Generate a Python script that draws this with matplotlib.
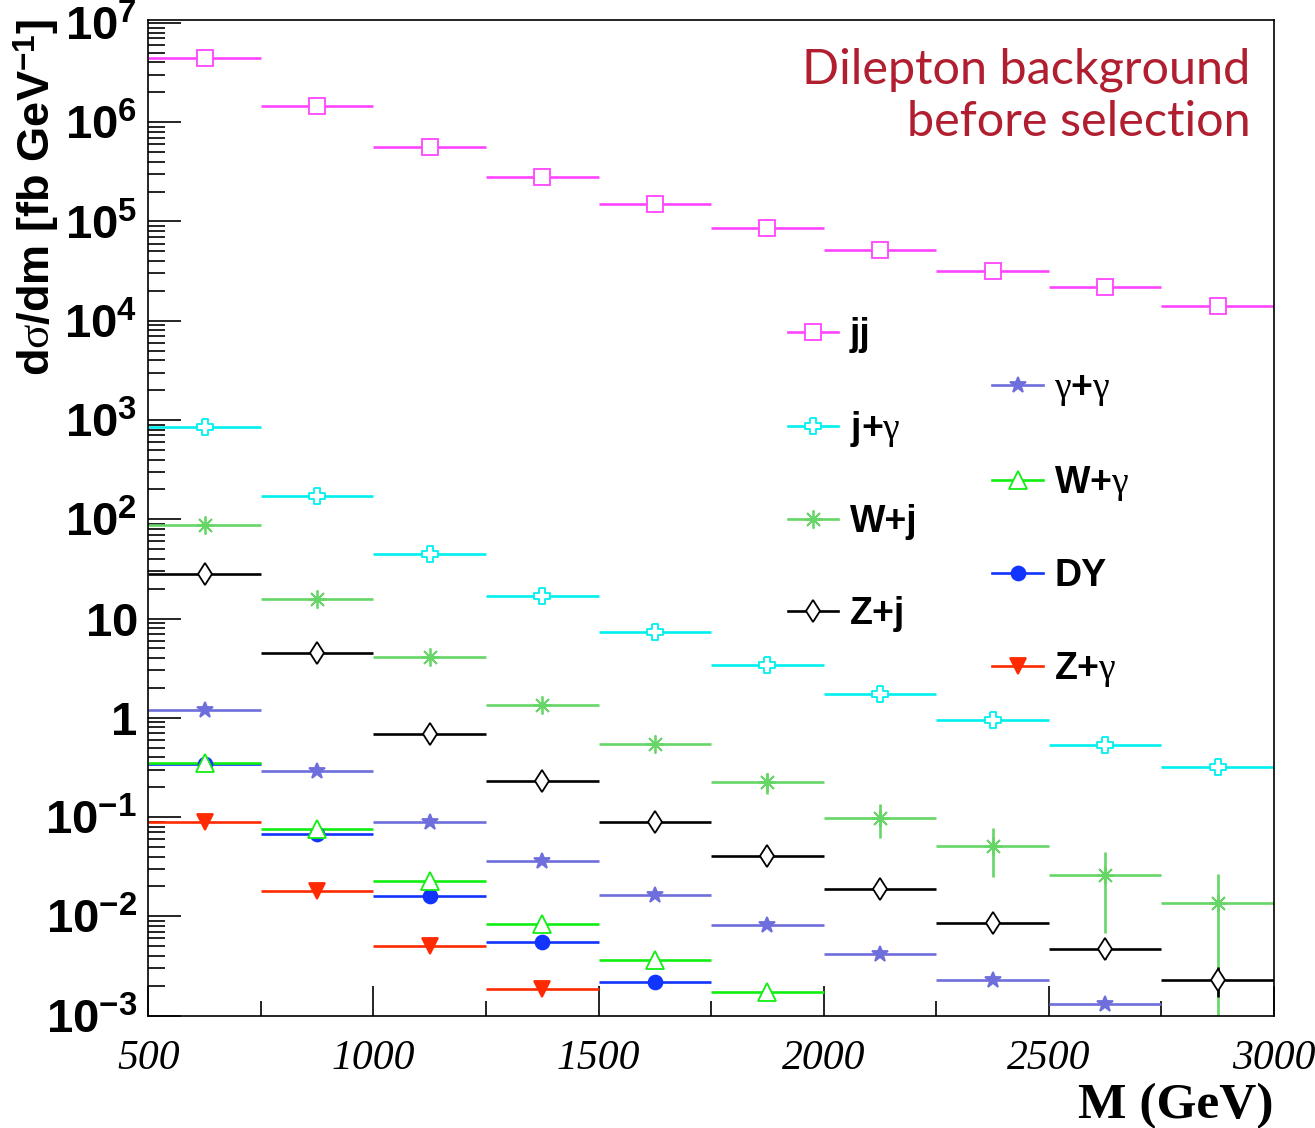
#!/usr/bin/env python3
# dilepton background cross sections vs mass, ROOT-like style

import numpy as np
import matplotlib
matplotlib.use('Agg')
import matplotlib.pyplot as plt
from matplotlib.path import Path
from matplotlib.lines import Line2D
from matplotlib.ticker import (FixedLocator, NullFormatter, FuncFormatter,
                               MultipleLocator)

plt.rcParams['mathtext.fontset'] = 'custom'
plt.rcParams['mathtext.rm'] = 'Liberation Serif'
plt.rcParams['mathtext.it'] = 'Liberation Serif:italic'
plt.rcParams['mathtext.bf'] = 'Liberation Sans:bold'

#---------------- data ----------------
mass_lo  = [500, 750, 1000, 1250, 1500, 1750, 2000, 2250, 2500, 2750]
bin_half = 125.
nan = np.nan

jj     = [4.4e6, 1.47e6, 5.6e5, 2.8e5, 1.49e5, 8.7e4, 5.2e4, 3.2e4, 2.2e4, 1.4e4]
jgam   = [850, 172, 45, 16.8, 7.3, 3.37, 1.74, 0.95, 0.53, 0.318]
wj     = [87.7, 15.8, 4.07, 1.35, 0.54, 0.223, 0.098, 0.051, 0.0258, 0.0137]
wj_err = [0, 0, 0, 0, 0, 0.053, 0.036, 0.026, 0.019, 0.013]
zj     = [27.9, 4.5, 0.684, 0.233, 0.089, 0.0404, 0.0188, 0.00855, 0.00471, 0.00229]
zj_err = [0, 0, 0, 0, 0, 0, 0, 0, 0.001, 0.00076]
gamgam = [1.2, 0.288, 0.0896, 0.0362, 0.0163, 0.0081, 0.0042, 0.00229, 0.00131, nan]
wgam   = [0.352, 0.0755, 0.0228, 0.0084, 0.0036, 0.00171, nan, nan, nan, nan]
dy     = [0.345, 0.0668, 0.016, 0.0055, 0.00216, nan, nan, nan, nan, nan]
zgam   = [0.0883, 0.018, 0.00505, 0.00185, nan, nan, nan, nan, nan, nan]

labels_left  = ['jj', r'j+$\mathrm{\gamma}$', 'W+j', 'Z+j']
labels_right = [r'$\mathrm{\gamma}$+$\mathrm{\gamma}$', r'W+$\mathrm{\gamma}$', 'DY',
                r'Z+$\mathrm{\gamma}$']

# open cross marker (ROOT style 28)
a = 0.32
cross_path = Path([(-a, 1), (a, 1), (a, a), (1, a), (1, -a), (a, -a), (a, -1),
                   (-a, -1), (-a, -a), (-1, -a), (-1, a), (-a, a), (-a, 1)])

c_jj   = '#ff44ff'
c_jg   = '#00f0f0'
c_wj   = '#66d666'
c_zj   = '#000000'
c_gg   = '#6e6edc'
c_wg   = '#11ee11'
c_dy   = '#1234ff'
c_zg   = '#ff2a00'

# (values, errors, colour, marker, size, face)
series = {
    'jj'  : (jj,     None,   c_jj, 's',        11,   'white'),
    'jg'  : (jgam,   None,   c_jg, cross_path, 11.5, 'white'),
    'wj'  : (wj,     wj_err, c_wj, (8, 2, 0),  13,   'none'),
    'zj'  : (zj,     zj_err, c_zj, 'd',        11.5, 'white'),
    'gg'  : (gamgam, None,   c_gg, '*',        12,   c_gg),
    'dy'  : (dy,     None,   c_dy, 'o',        10,   c_dy),
    'wg'  : (wgam,   None,   c_wg, '^',        13,   'white'),
    'zg'  : (zgam,   None,   c_zg, 'v',        12,   c_zg),
}

#==================================================================
def plot_image():
    fig = plt.figure(figsize=(13.15, 11.28), dpi=100)
    ax = fig.add_axes([0.1128, 0.0997, 0.9688 - 0.1128, 0.9827 - 0.0997])

    x = np.array(mass_lo) + bin_half
    for key, (vals, errs, col, mk, ms, face) in series.items():
        y = np.array(vals, dtype=float)
        yerr = None if errs is None else np.array(errs, dtype=float)
        ax.errorbar(x, y, xerr=bin_half, yerr=yerr, fmt='none', ecolor=col,
                    elinewidth=1.9, capsize=0, zorder=2)
        ax.plot(x, y, linestyle='none', marker=mk, ms=ms, mfc=face, mec=col,
                mew=1.3, zorder=3)

    ax.set_yscale('log')
    ax.set_xlim(500, 3000)
    ax.set_ylim(1e-3, 10**7.035)

    #-------- ticks --------
    decades = np.arange(-3, 8)
    minors = [m * 10.0**d for d in decades[:-1] for m in range(2, 10)]
    minors += [m * 1e7 for m in range(2, 10) if m * 1e7 < 10**7.035]

    def ylab(v, pos):
        n = int(round(np.log10(v)))
        if n == 0:
            return r'$\mathbf{1}$'
        if n == 1:
            return r'$\mathbf{10}$'
        return r'$\mathbf{10^{%d}}$' % n
    ax.yaxis.set_major_locator(FixedLocator(10.0**decades))
    ax.yaxis.set_minor_locator(FixedLocator(minors))
    ax.yaxis.set_major_formatter(FuncFormatter(ylab))
    ax.yaxis.set_minor_formatter(NullFormatter())
    ax.xaxis.set_major_locator(MultipleLocator(500))
    ax.xaxis.set_minor_locator(MultipleLocator(250))

    ax.tick_params(axis='y', which='major', direction='in', length=24, width=1.2,
                   labelsize=34, pad=8, right=False)
    ax.tick_params(axis='y', which='minor', direction='in', length=12, width=1.2,
                   right=False)
    ax.tick_params(axis='x', which='major', direction='in', length=21.5, width=1.2,
                   labelsize=30, pad=17, top=False)
    ax.tick_params(axis='x', which='minor', direction='in', length=11, width=1.2,
                   top=False)
    for lab in ax.get_xticklabels():
        lab.set_family('Liberation Serif')
        lab.set_style('italic')
    for sp in ax.spines.values():
        sp.set_linewidth(1.2)

    ax.set_xlabel('M (GeV)', loc='right', fontsize=37, fontweight='bold',
                  family='Liberation Serif', labelpad=4)
    ax.set_ylabel(r'd$\mathrm{\sigma}$/dm [fb GeV$^{\mathbf{-1}}$]', loc='top',
                  fontsize=32.5, fontweight='bold', family='Liberation Sans')
    ax.yaxis.set_label_coords(-0.078, 1.0)

    #-------- legends --------
    def handle(key):
        vals, errs, col, mk, ms, face = series[key]
        return Line2D([], [], color=col, lw=1.9, marker=mk, ms=ms, mfc=face,
                      mec=col, mew=1.3)
    leg_kw = dict(frameon=False, handlelength=1.35, handletextpad=0.3,
                  borderpad=0, borderaxespad=0, labelspacing=1.48,
                  prop={'family': 'Liberation Sans', 'weight': 'bold', 'size': 27})
    leg1 = ax.legend([handle(k) for k in ['jj', 'jg', 'wj', 'zj']], labels_left,
                     loc='center left', bbox_to_anchor=(0.568, 0.543), **leg_kw)
    ax.add_artist(leg1)
    ax.legend([handle(k) for k in ['gg', 'wg', 'dy', 'zg']], labels_right,
              loc='center left', bbox_to_anchor=(0.7497, 0.488), **leg_kw)

    ax.text(0.979, 0.972, 'Dilepton background\nbefore selection',
            transform=ax.transAxes, ha='right', va='top', multialignment='right',
            color='#b01e30', fontsize=35, family='Lato', linespacing=1.22)

    fig.savefig('out.png', dpi=100)

#==================================================================
if __name__ == "__main__":
    plot_image()
